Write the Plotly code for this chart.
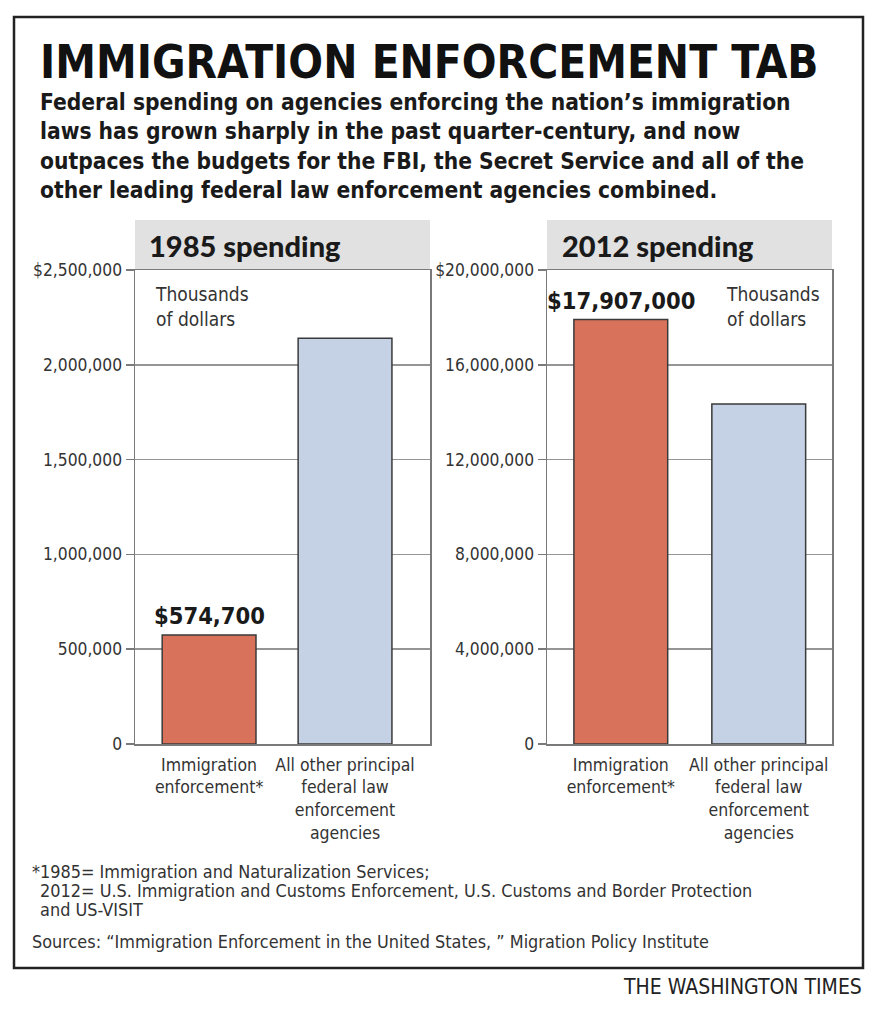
import plotly.graph_objects as go

# ---- data ----
categories = ["Immigration<br>enforcement*", "All other principal<br>federal law<br>enforcement<br>agencies"]
spending_1985 = [574700, 2140000]
spending_2012 = [17907000, 14350000]
ticks_1985 = [0, 500000, 1000000, 1500000, 2000000, 2500000]
ticklabels_1985 = ["0", "500,000", "1,000,000", "1,500,000", "2,000,000", "$2,500,000"]
ticks_2012 = [0, 4000000, 8000000, 12000000, 16000000, 20000000]
ticklabels_2012 = ["0", "4,000,000", "8,000,000", "12,000,000", "16,000,000", "$20,000,000"]
bar_colors = ["#D9725A", "#C5D1E4"]

W, H = 878, 1013
NARROW = "DejaVu Sans Condensed, Liberation Sans Narrow, Arial Narrow, sans-serif"
TXT = "#231f20"

def px(x):
    return x / W

def py(y):
    return 1 - y / H

fig = go.Figure()
fig.add_trace(go.Bar(x=categories, y=spending_1985, marker=dict(color=bar_colors, line=dict(color="#3a3a3a", width=1.5)),
                     width=0.69, xaxis="x", yaxis="y", hoverinfo="skip"))
fig.add_trace(go.Bar(x=categories, y=spending_2012, marker=dict(color=bar_colors, line=dict(color="#3a3a3a", width=1.5)),
                     width=0.68, xaxis="x2", yaxis="y2", hoverinfo="skip"))

ydom = [py(744), py(270)]
axis_common = dict(showline=True, mirror=True, linecolor="#7a7a7a", linewidth=1.5, automargin=False, fixedrange=True)
xfont = dict(size=17.5, color="#333", family=NARROW)
yfont = dict(size=17.3, color="#333", family=NARROW)
fig.update_layout(
    width=W, height=H, margin=dict(l=0, r=0, t=0, b=0, autoexpand=False),
    paper_bgcolor="white", plot_bgcolor="white", showlegend=False,
    font=dict(family=NARROW, color=TXT),
    xaxis=dict(domain=[px(135), px(430)], type="category", range=[-0.545, 1.625], tickangle=0,
               tickfont=xfont, ticks="", ticklabelstandoff=4, **axis_common),
    yaxis=dict(domain=ydom, range=[0, 2500000], tickvals=ticks_1985, ticktext=ticklabels_1985,
               tickfont=yfont, ticks="outside", ticklen=8, tickcolor="#7a7a7a", tickwidth=1.5,
               showgrid=True, gridcolor="#959595", gridwidth=1.5, zeroline=False, **axis_common),
    xaxis2=dict(domain=[px(547), px(832)], type="category", range=[-0.535, 1.531], anchor="y2", tickangle=0,
                tickfont=xfont, ticks="", ticklabelstandoff=4, **axis_common),
    yaxis2=dict(domain=ydom, range=[0, 20000000], anchor="x2", tickvals=ticks_2012, ticktext=ticklabels_2012,
                tickfont=yfont, ticks="outside", ticklen=8, tickcolor="#7a7a7a", tickwidth=1.5,
                showgrid=True, gridcolor="#959595", gridwidth=1.5, zeroline=False, **axis_common),
)

shapes = [
    dict(type="rect", xref="paper", yref="paper", x0=px(14), x1=px(863), y0=py(968), y1=py(17),
         line=dict(color="#222", width=2.5), fillcolor="rgba(0,0,0,0)", layer="below"),
    dict(type="rect", xref="paper", yref="paper", x0=px(135), x1=px(430), y0=py(270), y1=py(220),
         line=dict(width=0), fillcolor="#E1E1E1", layer="below"),
    dict(type="rect", xref="paper", yref="paper", x0=px(547), x1=px(832), y0=py(270), y1=py(220),
         line=dict(width=0), fillcolor="#E1E1E1", layer="below"),
]
fig.update_layout(shapes=shapes)

ann = []
def A(text, x, y, size, xanchor="left", yanchor="middle", bold=False, family=NARROW, color=TXT,
      align="left", weight=None):
    f = dict(size=size, family=family, color=color)
    if bold:
        f["weight"] = weight or "bold"
    d = dict(text=text, x=px(x), y=py(y), xref="paper", yref="paper", xanchor=xanchor, yanchor=yanchor,
             showarrow=False, align=align, font=f)
    ann.append(d)

A("IMMIGRATION ENFORCEMENT TAB", 38, 63, 45.5, bold=True, color="#111")
A("Federal spending on agencies enforcing the nation’s immigration<br>"
  "laws has grown sharply in the past quarter-century, and now<br>"
  "outpaces the budgets for the FBI, the Secret Service and all of the<br>"
  "other leading federal law enforcement agencies combined.", 38, 146, 22.6, bold=True, color="#1a1a1a")
A("1985 spending", 147, 245, 29, bold=True, weight=900, family="Lato, Roboto, sans-serif", color="#1a1a1a")
A("2012 spending", 560, 245, 29, bold=True, weight=900, family="Lato, Roboto, sans-serif", color="#1a1a1a")
A("Thousands<br>of dollars", 153, 306, 19, color="#333")
A("Thousands<br>of dollars", 724, 306, 19, color="#333")
A("*1985= Immigration and Naturalization Services;", 30, 871, 17.9, color="#333")
A(" 2012= U.S. Immigration and Customs Enforcement, U.S. Customs and Border Protection", 33, 890, 17.9, color="#333")
A(" and US-VISIT", 33, 909, 17.9, color="#333")
A("Sources: “Immigration Enforcement in the United States, ” Migration Policy Institute", 30, 941, 17.9, color="#333")
A("THE WASHINGTON TIMES", 864, 987, 21, xanchor="right", color="#222")

# value labels attached to data
for label, xr, yr, val in [("$574,700", "x", "y", spending_1985[0]), ("$17,907,000", "x2", "y2", spending_2012[0])]:
    ann.append(dict(text=label, x=categories[0], y=val, xref=xr, yref=yr,
                    xanchor="center", yanchor="bottom", yshift=3, showarrow=False,
                    font=dict(size=23.5, family=NARROW, color="#1a1a1a", weight="bold")))
fig.update_layout(annotations=ann)

fig.write_html("out.html", config={"displayModeBar": False, "staticPlot": True},
               post_script="document.body.style.margin='0';document.body.style.overflow='hidden';")
